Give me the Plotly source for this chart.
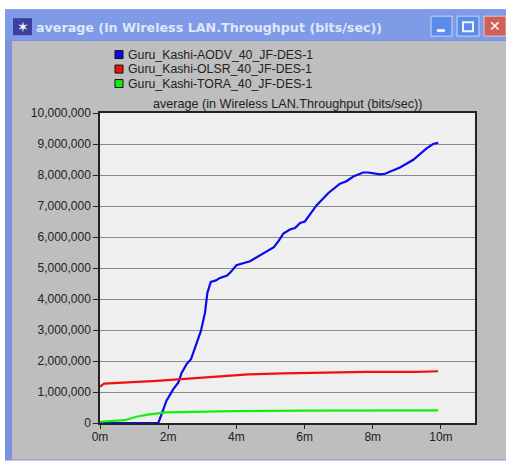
import plotly.graph_objects as go

SERIES_NAMES = ["Guru_Kashi-AODV_40_JF-DES-1", "Guru_Kashi-OLSR_40_JF-DES-1", "Guru_Kashi-TORA_40_JF-DES-1"]
COLORS = ["#0a0aee", "#f01010", "#10f010"]
WINDOW_TITLE = "average (in Wireless LAN.Throughput (bits/sec))"
CHART_TITLE = "average (in Wireless LAN.Throughput (bits/sec))"

aodv_t = [0, 1.71, 1.81, 1.95, 2.15, 2.30, 2.39, 2.54, 2.67, 2.83, 2.96, 3.08, 3.15, 3.25, 3.40, 3.52, 3.73, 3.86,
          4.0, 4.40, 4.69, 4.94, 5.10, 5.23, 5.38, 5.57, 5.72, 5.87, 6.01, 6.35, 6.70, 7.04, 7.23, 7.43, 7.72, 7.87,
          8.21, 8.36, 8.8, 9.19, 9.58, 9.77, 9.92]
aodv_v = [0, 0, 0.29, 0.72, 1.09, 1.31, 1.61, 1.90, 2.06, 2.59, 2.97, 3.56, 4.2, 4.55, 4.6, 4.68, 4.76, 4.9,
          5.09, 5.22, 5.4, 5.57, 5.67, 5.86, 6.11, 6.24, 6.29, 6.45, 6.5, 7.02, 7.42, 7.72, 7.8, 7.95, 8.08, 8.08,
          8.02, 8.04, 8.24, 8.49, 8.86, 9.0, 9.04]
olsr_t = [0, 0.12, 1.66, 4.1, 4.35, 5.38, 6.26, 6.45, 7.82, 9.3, 9.92]
olsr_v = [1.17, 1.27, 1.36, 1.54, 1.57, 1.60, 1.62, 1.64, 1.65, 1.65, 1.67]
tora_t = [0, 0.72, 1.1, 1.4, 1.93, 2.3, 3.9, 6.0, 9.92]
tora_v = [0.04, 0.09, 0.21, 0.27, 0.34, 0.35, 0.38, 0.40, 0.41]

y_ticks = [i * 1_000_000 for i in range(11)]
y_labels = [f"{v:,}" for v in y_ticks]
x_ticks = [0, 2, 4, 6, 8, 10]
x_labels = ["0m", "2m", "4m", "6m", "8m", "10m"]

W, H = 506, 462
L, R, T, B = 100, 475, 113, 423.5
def px(x): return (x - L) / (R - L)
def py(y): return (B - y) / (B - T)

def rect(x0, y0, x1, y1, fill, line=None, lw=0, layer="below"):
    return dict(type="rect", xref="paper", yref="paper", x0=px(x0), x1=px(x1), y0=py(y0), y1=py(y1),
                fillcolor=fill, line=dict(color=line or fill, width=lw), layer=layer)

fig = go.Figure()
for t, v, n, c in zip([aodv_t, olsr_t, tora_t], [aodv_v, olsr_v, tora_v], SERIES_NAMES, COLORS):
    fig.add_trace(go.Scatter(x=t, y=[a * 1e6 for a in v], name=n, mode="lines",
                             line=dict(color=c, width=2.2), showlegend=False, cliponaxis=False))

shapes = [
    rect(5, 9, 506, 461, "#7b93dd"),
    rect(5, 9, 506, 40, "#7f9ae6"),
    rect(12, 41, 506, 460, "#bebebe"),
    rect(L, T, R, B, "#efefef"),
    rect(13, 18, 32, 35, "#3c3f9e"),
    rect(431, 16, 452, 36, "#5a8cec", "#c9d8f8", 1),
    rect(457, 16, 479, 36, "#5a8cec", "#c9d8f8", 1),
    rect(484, 16, 506, 36, "#d0605a", "#e8c8c8", 1),
    rect(437, 29, 445, 32, "#eef3ff"),
    rect(463, 22, 473, 31, "#5a8cec", "#eef3ff", 2),
]
def ann(x, y, text, **kw):
    kw.setdefault("xanchor", "center")
    kw.setdefault("yanchor", "middle")
    return dict(x=px(x), y=py(y), xref="paper", yref="paper", text=text, showarrow=False, **kw)

anns = [
    ann(34, 27, WINDOW_TITLE, xanchor="left",
        font=dict(family="DejaVu Sans", size=12.7, color="#dfe7fb", weight="bold")),
    ann(22.5, 26.5, "✶", font=dict(size=14, color="#ffffff")),
    ann(495, 26, "✕", font=dict(size=14, color="#ffffff", family="DejaVu Sans", weight="bold")),
    ann(287, 104, CHART_TITLE, font=dict(family="Liberation Sans", size=12.6, color="#222222")),
]
for i, (n, c) in enumerate(zip(SERIES_NAMES, COLORS)):
    yc = 54.5 + i * 14.5
    shapes.append(rect(115, yc - 4, 123, yc + 4, c, "#111111", 1, layer="above"))
    anns.append(ann(126, yc, n, xanchor="left", font=dict(family="Liberation Sans", size=12.3, color="#222222")))

fig.update_layout(
    width=W, height=H, autosize=False,
    margin=dict(l=L, r=W - R, t=T, b=H - B, pad=0),
    paper_bgcolor="#ffffff", plot_bgcolor="#efefef",
    shapes=shapes, annotations=anns, showlegend=False,
    font=dict(family="Liberation Sans", size=12, color="#222222"),
    xaxis=dict(range=[0, 11], tickmode="array", tickvals=x_ticks, ticktext=x_labels, ticks="outside", ticklen=4,
               tickcolor="#222222", showgrid=False, zeroline=False, showline=True, linecolor="#222222", linewidth=1.5,
               mirror=True, tickfont=dict(size=12), ticklabelstandoff=-2),
    yaxis=dict(range=[0, 10_000_000], tickmode="array", tickvals=y_ticks, ticktext=y_labels, ticks="outside", ticklen=5,
               tickcolor="#222222", showgrid=True, gridcolor="#8c8c8c", gridwidth=1, zeroline=False, showline=True,
               linecolor="#222222", linewidth=1.5, mirror=True, tickfont=dict(size=12)),
)
fig.write_html("out.html", config=dict(displayModeBar=False),
               post_script="document.body.style.margin='0';document.documentElement.style.overflow='hidden';")
